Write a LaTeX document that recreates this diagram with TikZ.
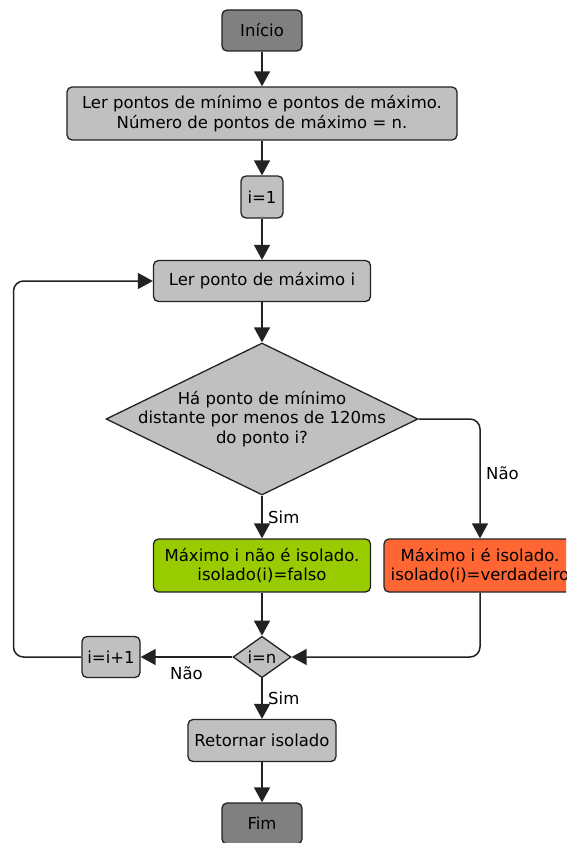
\documentclass[tikz,border=0pt]{standalone}
\usepackage{fontspec}
\setmainfont{DejaVu Sans}
\usetikzlibrary{shapes.geometric,arrows.meta}
\definecolor{boxgray}{HTML}{C0C0C0}
\definecolor{termgray}{HTML}{808080}
\definecolor{limegreen}{HTML}{99CC00}
\definecolor{orangered}{HTML}{FF6633}
\definecolor{linecol}{HTML}{222222}
\begin{document}
\begin{tikzpicture}[x=1pt,y=-1pt,
  font=\fontsize{16.5}{19.5}\selectfont,
  box/.style={draw=linecol, line width=1.3pt, rounded corners=5pt, fill=boxgray,
    inner sep=0pt, align=center},
  term/.style={box, fill=termgray},
  dec/.style={diamond, draw=linecol, line width=1.3pt, fill=boxgray, inner sep=0pt},
  flow/.style={draw=linecol, line width=1.5pt, rounded corners=10pt,
    -{Triangle[length=15pt,width=16pt]}},
  lbl/.style={inner sep=0pt, anchor=west}
]
\useasboundingbox (0,0) rectangle (566,843);
\clip (0,0) rectangle (566,843);

% process steps
\node[term, minimum width=80, minimum height=41] (start) at (262,30.5) {Início};
\node[box, minimum width=390, minimum height=53] (read) at (262,113.5)
  {Ler pontos de mínimo e pontos de máximo.\\Número de pontos de máximo = n.};
\node[box, minimum width=42, minimum height=42] (init) at (262,197) {i=1};
\node[box, minimum width=217, minimum height=41] (readmax) at (262,281) {Ler ponto de máximo i};
\node[dec, minimum width=312, minimum height=152] (near) at (262,419) {};
\node[align=center, inner sep=0pt] (neartext) at (near.center)
  {Há ponto de mínimo\\distante por menos de 120ms\\do ponto i?};
\node[box, fill=limegreen, minimum width=217, minimum height=53] (notiso) at (262,565.5)
  {Máximo i não é isolado.\\isolado(i)=falso};
\node[box, fill=orangered, minimum width=192, minimum height=53] (iso) at (480,565.5)
  {Máximo i é isolado.\\isolado(i)=verdadeiro};
\node[dec, minimum width=58, minimum height=41] (last) at (262,657) {i=n};
\node[box, minimum width=58, minimum height=41] (inc) at (111,657) {i=i+1};
\node[box, minimum width=148, minimum height=42] (ret) at (262,740.5) {Retornar isolado};
\node[term, minimum width=80, minimum height=41] (end) at (262,823.5) {Fim};

% connectors
\draw[flow] (start) -- (read);
\draw[flow] (read) -- (init);
\draw[flow] (init) -- (readmax);
\draw[flow] (readmax) -- (near);
\draw[flow] (near) -- (notiso);
\draw[flow] (near.east) -| (iso.north);
\draw[flow] (notiso) -- (last);
\draw[flow] (iso.south) |- (last.east);
\draw[flow] (last.west) -- (inc.east);
\coordinate (loop) at (13.5,281);
\draw[flow] (inc.west) -| (loop) -- (readmax.west);
\draw[flow] (last) -- (ret);
\draw[flow] (ret) -- (end);

% branch labels
\node[lbl] (simA) at (268,517) {Sim};
\node[lbl] (naoA) at (486,473) {Não};
\node[lbl] (naoB) at (170,673) {Não};
\node[lbl] (simB) at (268,698) {Sim};
\end{tikzpicture}
\end{document}
